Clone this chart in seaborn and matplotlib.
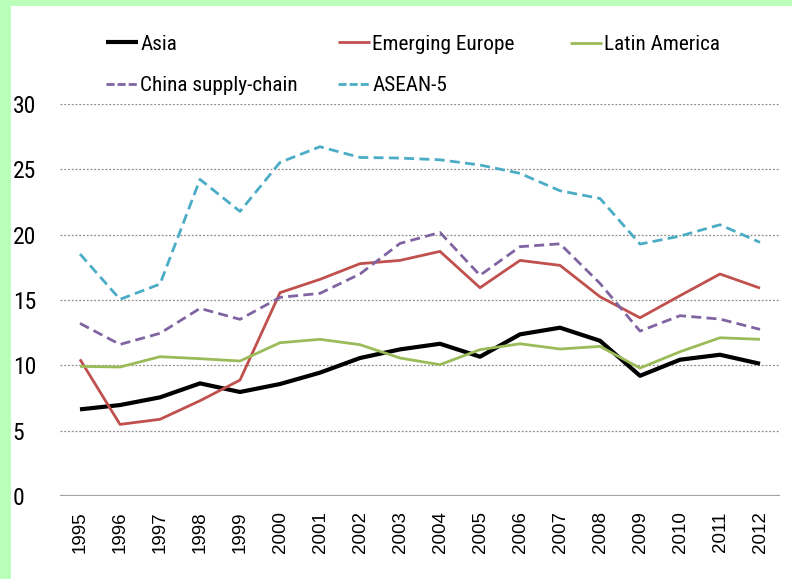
import matplotlib
matplotlib.use("Agg")
import matplotlib.pyplot as plt
import seaborn as sns
import pandas as pd
from matplotlib.patches import Rectangle

years = list(range(1995, 2013))
asia = [6.63, 6.96, 7.55, 8.62, 7.96, 8.57, 9.44, 10.56, 11.22, 11.65,
        10.66, 12.37, 12.88, 11.88, 9.20, 10.43, 10.81, 10.12]
emerging_europe = [10.46, 5.48, 5.87, 7.29, 8.87, 15.56, 16.58, 17.78, 18.03, 18.72,
                   15.94, 18.03, 17.65, 15.25, 13.64, 15.33, 16.99, 15.91]
latin_america = [9.92, 9.87, 10.66, 10.51, 10.33, 11.73, 11.99, 11.58, 10.56, 10.05,
                 11.20, 11.65, 11.25, 11.45, 9.79, 11.04, 12.11, 11.99]
china_supply_chain = [13.21, 11.60, 12.45, 14.36, 13.52, 15.20, 15.51, 16.99, 19.33, 20.17,
                      16.89, 19.08, 19.30, 16.27, 12.62, 13.80, 13.54, 12.75]
asean5 = [18.52, 15.05, 16.22, 24.23, 21.78, 25.53, 26.73, 25.91, 25.86, 25.73,
          25.33, 24.69, 23.36, 22.77, 19.28, 19.89, 20.76, 19.41]

series_names = ["Asia", "Emerging Europe", "Latin America", "China supply-chain", "ASEAN-5"]
series_values = [asia, emerging_europe, latin_america, china_supply_chain, asean5]
colors = ["#000000", "#C0504D", "#9BBB59", "#8064A2", "#4BACC6"]
widths = [3.0, 2.0, 2.0, 2.0, 2.0]
dashed = [False, False, False, True, True]
yticks = [0, 5, 10, 15, 20, 25, 30]

sns.set_theme(style="white")
NARROW = ["Roboto Condensed", "Archivo Narrow", "Liberation Sans", "DejaVu Sans"]
ARIAL = ["Arimo", "Liberation Sans", "DejaVu Sans"]
plt.rcParams["font.family"] = ARIAL

W, H = 792, 579
fig = plt.figure(figsize=(W / 100, H / 100), dpi=100)
fig.patch.set_facecolor("#baffba")
fig.patches.append(Rectangle((11 / W, 0), 1 - 11 / W, 1 - 6 / H, transform=fig.transFigure,
                             facecolor="white", edgecolor="none", zorder=-5))

ax = fig.add_axes([60 / W, 1 - 496 / H, (780 - 60) / W, (496 - 104) / H])
ax.set_facecolor("none")
ax.set_zorder(2)

lines = {}
for name, vals, c, lw, d in zip(series_names, series_values, colors, widths, dashed):
    df = pd.DataFrame({"year": years, "value": vals})
    sns.lineplot(data=df, x="year", y="value", ax=ax, color=c, linewidth=lw, label=name)
    ln = ax.get_lines()[-1]
    if d:
        ln.set_dashes((3.6, 1.9))
    ln.set_solid_capstyle("butt")
    lines[name] = ln
ax.get_legend().remove()

ax.set_xlim(years[0] - 0.5, years[-1] + 0.5)
ax.set_ylim(0, 30)
ax.set_xticks(years)
ax.set_xticklabels([str(y) for y in years], rotation=90, fontsize=13.5, family=ARIAL, color="black")
ax.set_yticks(yticks)
ax.set_yticklabels([str(v) for v in yticks], fontsize=17, family=NARROW, ha="left", color="black")
ax.tick_params(axis="y", length=0, pad=34)
ax.tick_params(axis="x", length=0, pad=11)
ax.set_xlabel("")
ax.set_ylabel("")
for s in ax.spines.values():
    s.set_visible(False)
for v in yticks[1:]:
    ax.axhline(v, color="#8c8c8c", linewidth=0.9, linestyle=(0, (1.5, 1.5)), zorder=0.5)
ax.axhline(0, color="#a6a6a6", linewidth=1.6, zorder=0.6)

legend_kw = dict(frameon=False, prop={"family": NARROW, "size": 15.3}, handlelength=1.5,
                 handletextpad=0.12, borderpad=0, borderaxespad=0, labelspacing=1.05)
leg1 = fig.legend([lines["Asia"], lines["China supply-chain"]], ["Asia", "China supply-chain"],
                  loc="center left", bbox_to_anchor=(106 / W, 1 - 65 / H), **legend_kw)
leg2 = fig.legend([lines["Emerging Europe"], lines["ASEAN-5"]], ["Emerging Europe", "ASEAN-5"],
                  loc="center left", bbox_to_anchor=(338 / W, 1 - 65 / H), **legend_kw)
leg3 = fig.legend([lines["Latin America"]], ["Latin America"],
                  loc="center left", bbox_to_anchor=(570 / W, 1 - 45 / H), **legend_kw)
for lg in (leg1, leg2, leg3):
    for t in lg.get_texts():
        t.set_color("black")
for lg, idx in ((leg1, 1), (leg2, 1)):
    lg.get_lines()[idx].set_dashes((2.9, 1.1))

fig.savefig("out.png", dpi=100, facecolor=fig.get_facecolor())
